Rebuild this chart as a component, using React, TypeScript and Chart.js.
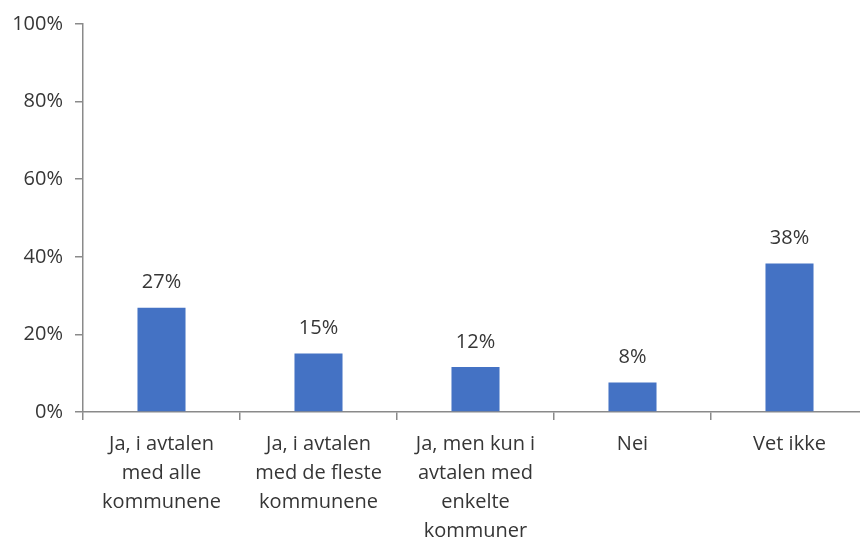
import React, { useEffect, useRef } from "react";
import { Chart, registerables } from "chart.js";

Chart.register(...registerables);

const categories: string[][] = [
  ["Ja, i avtalen", "med alle", "kommunene"],
  ["Ja, i avtalen", "med de fleste", "kommunene"],
  ["Ja, men kun i", "avtalen med", "enkelte", "kommuner"],
  ["Nei"],
  ["Vet ikke"],
];
const values: number[] = [26.9, 15.1, 11.6, 7.6, 38.3];
const yTicks: number[] = [0, 20, 40, 60, 80, 100];

const FONT = "'Open Sans', 'Noto Sans', sans-serif";
const TEXT = "#363636";
const AXIS = "#8a8a8a";

const labelPlugin = {
  id: "valueLabels",
  afterDatasetsDraw(chart: any) {
    const ctx = chart.ctx;
    const meta = chart.getDatasetMeta(0);
    ctx.save();
    ctx.font = `20px ${FONT}`;
    ctx.fillStyle = TEXT;
    ctx.textAlign = "center";
    ctx.textBaseline = "middle";
    meta.data.forEach((el: any, i: number) => {
      ctx.fillText(Math.round(values[i]) + "%", el.x, el.y - 25);
    });
    ctx.restore();
  },
};

export default function App() {
  const ref = useRef<HTMLCanvasElement | null>(null);
  useEffect(() => {
    if (!ref.current) return;
    const chart = new Chart(ref.current, {
      type: "bar",
      data: {
        labels: categories,
        datasets: [
          {
            data: values,
            backgroundColor: "#4472C4",
            borderWidth: 0,
            barPercentage: 0.306,
            categoryPercentage: 1,
          },
        ],
      },
      options: {
        animation: false,
        responsive: false,
        maintainAspectRatio: false,
        layout: { padding: { top: 24, right: 0, bottom: 0, left: 0 } },
        plugins: { legend: { display: false }, tooltip: { enabled: false } },
        scales: {
          x: {
            offset: true,
            grid: {
              offset: true,
              drawOnChartArea: false,
              drawTicks: true,
              tickLength: 8,
              color: AXIS,
              lineWidth: 1.5,
            },
            border: { color: AXIS, width: 1.5 },
            ticks: {
              color: TEXT,
              font: { family: FONT, size: 20, lineHeight: 1.45 },
              padding: 10,
              maxRotation: 0,
              autoSkip: false,
            },
            afterFit: (s: any) => {
              s.height = 128;
            },
          },
          y: {
            min: 0,
            max: 100,
            afterBuildTicks: (s: any) => {
              s.ticks = yTicks.map((v) => ({ value: v }));
            },
            grid: {
              drawOnChartArea: false,
              drawTicks: true,
              tickLength: 8,
              color: AXIS,
              lineWidth: 1.5,
            },
            border: { color: AXIS, width: 1.5 },
            ticks: {
              color: TEXT,
              font: { family: FONT, size: 20 },
              padding: 12,
              callback: (v: any) => v + "%",
            },
            afterFit: (s: any) => {
              s.width = 83;
            },
          },
        },
      },
      plugins: [labelPlugin],
    });
    return () => chart.destroy();
  }, []);
  return (
    <div
      style={{
        position: "fixed",
        left: 0,
        top: 0,
        width: 860,
        height: 540,
        overflow: "hidden",
        background: "#fff",
      }}
    >
      <canvas ref={ref} width={868} height={540} style={{ display: "block" }} />
    </div>
  );
}
